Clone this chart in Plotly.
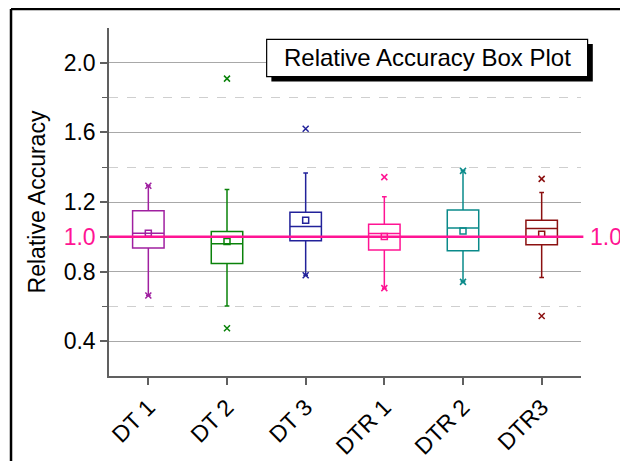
import plotly.graph_objects as go

categories = ["DT 1", "DT 2", "DT 3", "DTR 1", "DTR 2", "DTR3"]
colors = ["#A020A0", "#0A820A", "#22229A", "#FF1493", "#0A8A8A", "#8B1010"]
q1 = [0.935, 0.847, 0.977, 0.924, 0.920, 0.954]
median = [1.021, 0.960, 1.059, 1.019, 1.050, 1.048]
q3 = [1.149, 1.030, 1.141, 1.072, 1.154, 1.095]
lower = [0.663, 0.602, 0.779, 0.705, 0.741, 0.766]
upper = [1.293, 1.272, 1.367, 1.230, 1.379, 1.255]
means = [1.020, 0.973, 1.095, 1.002, 1.034, 1.015]
extreme_hi = [1.293, 1.909, 1.621, 1.343, 1.379, 1.333]
extreme_lo = [0.663, 0.474, 0.779, 0.705, 0.741, 0.545]

ref_value = 1.0
ref_color = "#FF1493"
major_ticks = [0.4, 0.8, 1.0, 1.2, 1.6, 2.0]
minor_ticks = [0.6, 1.4, 1.8]

FONT = "Liberation Sans, Arial, sans-serif"

fig = go.Figure()
for i, c in enumerate(categories):
    fig.add_trace(go.Box(
        x=[c], q1=[q1[i]], median=[median[i]], q3=[q3[i]],
        lowerfence=[lower[i]], upperfence=[upper[i]],
        width=0.4, whiskerwidth=0.15,
        line=dict(color=colors[i], width=1.5),
        fillcolor="rgba(0,0,0,0)", boxpoints=False, showlegend=False,
    ))
    fig.add_trace(go.Scatter(
        x=[c], y=[means[i]], mode="markers", showlegend=False,
        marker=dict(symbol="square-open", size=6, color=colors[i],
                    line=dict(width=1.5, color=colors[i])),
    ))
    fig.add_trace(go.Scatter(
        x=[c, c], y=[extreme_hi[i], extreme_lo[i]], mode="markers", showlegend=False,
        marker=dict(symbol="x-thin", size=6, color=colors[i],
                    line=dict(width=1.5, color=colors[i])),
    ))

ticktext = [f'<span style="color:{ref_color}">{v:.1f}</span>' if v == ref_value else f"{v:.1f}"
            for v in major_ticks]

fig.update_layout(
    width=620, height=453,
    margin=dict(l=101, r=47, t=20, b=85),
    paper_bgcolor="white", plot_bgcolor="white",
    boxmode="overlay",
    font=dict(family=FONT, size=23, color="black"),
    xaxis=dict(
        type="category", categoryorder="array", categoryarray=categories,
        range=[-0.5, 5.5], showgrid=False, tickangle=-45, automargin=False,
        ticks="outside", ticklen=7, tickwidth=1.5, tickcolor="#606060",
        showline=True, linecolor="#606060", linewidth=1.5,
        tickfont=dict(size=23, color="black"), zeroline=False,
    ),
    yaxis=dict(
        range=[0.2, 2.2], tickmode="array", tickvals=major_ticks, ticktext=ticktext,
        automargin=False,
        ticks="outside", ticklen=7, tickwidth=1.5, tickcolor="#606060",
        showline=True, linecolor="#606060", linewidth=1.5,
        showgrid=True, gridcolor="#A8A8A8", gridwidth=1.2, zeroline=False,
        tickfont=dict(size=23, color="black"),
        title=dict(text="Relative Accuracy", font=dict(size=23), standoff=12),
        minor=dict(tickmode="array", tickvals=minor_ticks, ticks="outside", ticklen=5,
                   tickcolor="#606060", tickwidth=1.2, showgrid=True,
                   gridcolor="#CFCFCF", griddash="dash", gridwidth=1),
    ),
)

# reference line at 1.0
fig.add_shape(type="line", xref="paper", yref="y", x0=0, x1=1.005, y0=ref_value, y1=ref_value,
              line=dict(color=ref_color, width=2.5), layer="above")
fig.add_annotation(xref="paper", yref="y", x=1.0, y=ref_value, text=f"{ref_value:.1f}",
                   showarrow=False, xanchor="left", xshift=7,
                   font=dict(size=23, color=ref_color))

# title box with shadow
fig.add_shape(type="rect", xref="paper", yref="paper", x0=0.344, x1=1.025, y0=0.846, y1=0.954,
              fillcolor="black", line=dict(width=0), layer="above")
fig.add_shape(type="rect", xref="paper", yref="paper", x0=0.334, x1=1.014, y0=0.860, y1=0.9675,
              fillcolor="white", line=dict(color="black", width=1.2), layer="above")
fig.add_annotation(xref="paper", yref="paper", x=0.674, y=0.914, text="Relative Accuracy Box Plot",
                   showarrow=False, xanchor="center", yanchor="middle",
                   font=dict(size=24, color="black"))

# outer frame (top and left)
fig.add_shape(type="line", xref="paper", yref="paper", x0=-0.2076, x1=1.2, y0=1.0546, y1=1.0546,
              line=dict(color="black", width=2.5))
fig.add_shape(type="line", xref="paper", yref="paper", x0=-0.2076, x1=-0.2076, y0=1.0546, y1=-0.3,
              line=dict(color="black", width=2.5))

fig.write_html("out.html")
